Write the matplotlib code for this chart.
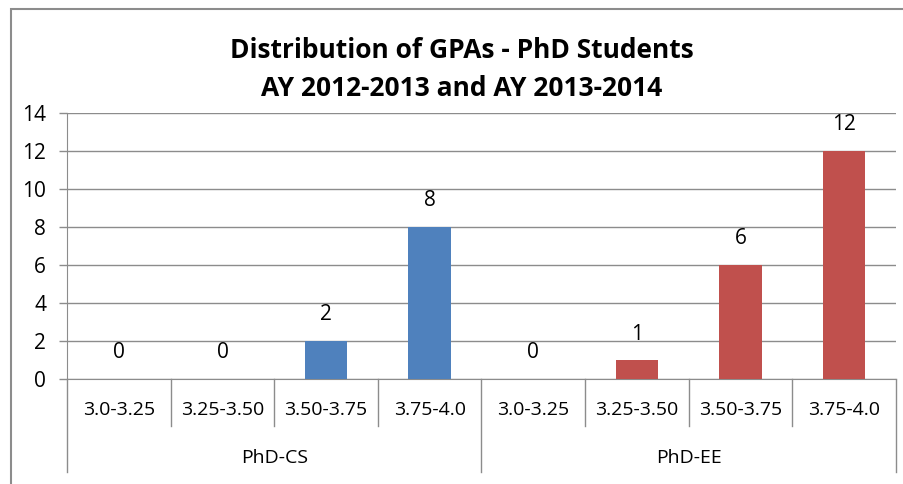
import matplotlib
matplotlib.use("Agg")
import matplotlib.pyplot as plt
from matplotlib.patches import Rectangle

plt.rcParams['font.family'] = ['Open Sans', 'DejaVu Sans']

groups = ["PhD-CS", "PhD-EE"]
ranges = ["3.0-3.25", "3.25-3.50", "3.50-3.75", "3.75-4.0"]
cs_counts = [0, 0, 2, 8]
ee_counts = [0, 1, 6, 12]
group_colors = ["#4F81BD", "#C0504D"]

W, H = 904, 484
fig = plt.figure(figsize=(W / 100, H / 100), dpi=100)

# chart frame (Excel style, cut off on right and bottom)
fig.patches.append(Rectangle((11 / W, -0.1), 1.2, 1 - 9 / H + 0.1,
                             transform=fig.transFigure, fill=False,
                             edgecolor="#8c8c8c", linewidth=1.5))

left, right, top, bottom = 67, 896, 113, 379
ax = fig.add_axes([left / W, 1 - bottom / H, (right - left) / W, (bottom - top) / H])

values = cs_counts + ee_counts
colors = [group_colors[0]] * len(cs_counts) + [group_colors[1]] * len(ee_counts)
x = list(range(len(values)))

ax.bar(x, values, width=0.41, color=colors, zorder=3)
for xi, v in zip(x, values):
    ax.annotate(str(v), (xi, v), xytext=(0, 26), textcoords="offset pixels",
                ha="center", va="center", fontsize=15, color="#000000")

ax.set_xlim(-0.5, len(values) - 0.5)
ax.set_ylim(0, 14)
ax.set_yticks(range(0, 15, 2))
ax.tick_params(axis="y", labelsize=15, length=6, width=1, color="#8c8c8c", pad=9)
ax.set_xticks([])
ax.grid(axis="y", color="#8c8c8c", linewidth=1, zorder=0)
for side in ["top", "right"]:
    ax.spines[side].set_visible(False)
ax.spines["left"].set_color("#8c8c8c")
ax.spines["bottom"].set_color("#8c8c8c")

# multi-level category axis
row1_y, row1_end = -0.1165, -0.177
row2_y, row2_end = -0.297, -0.35
trans = ax.get_xaxis_transform()
n = len(ranges)
for i in range(len(values) + 1):
    end = row2_end if i % n == 0 else row1_end
    ax.plot([i - 0.5, i - 0.5], [0, end], transform=trans, color="#8c8c8c",
            linewidth=1, clip_on=False)
for i in range(len(values)):
    ax.text(i, row1_y, ranges[i % n], transform=trans, ha="center", va="center",
            fontsize=14)
for g, name in enumerate(groups):
    ax.text(g * n + (n - 1) / 2, row2_y, name, transform=trans, ha="center",
            va="center", fontsize=14)

fig.text(462 / W, 1 - 50 / H, "Distribution of GPAs - PhD Students",
         ha="center", va="center", fontsize=19, fontweight="bold")
fig.text(462 / W, 1 - 88 / H, "AY 2012-2013 and AY 2013-2014",
         ha="center", va="center", fontsize=19, fontweight="bold")

fig.savefig("out.png", dpi=100)
